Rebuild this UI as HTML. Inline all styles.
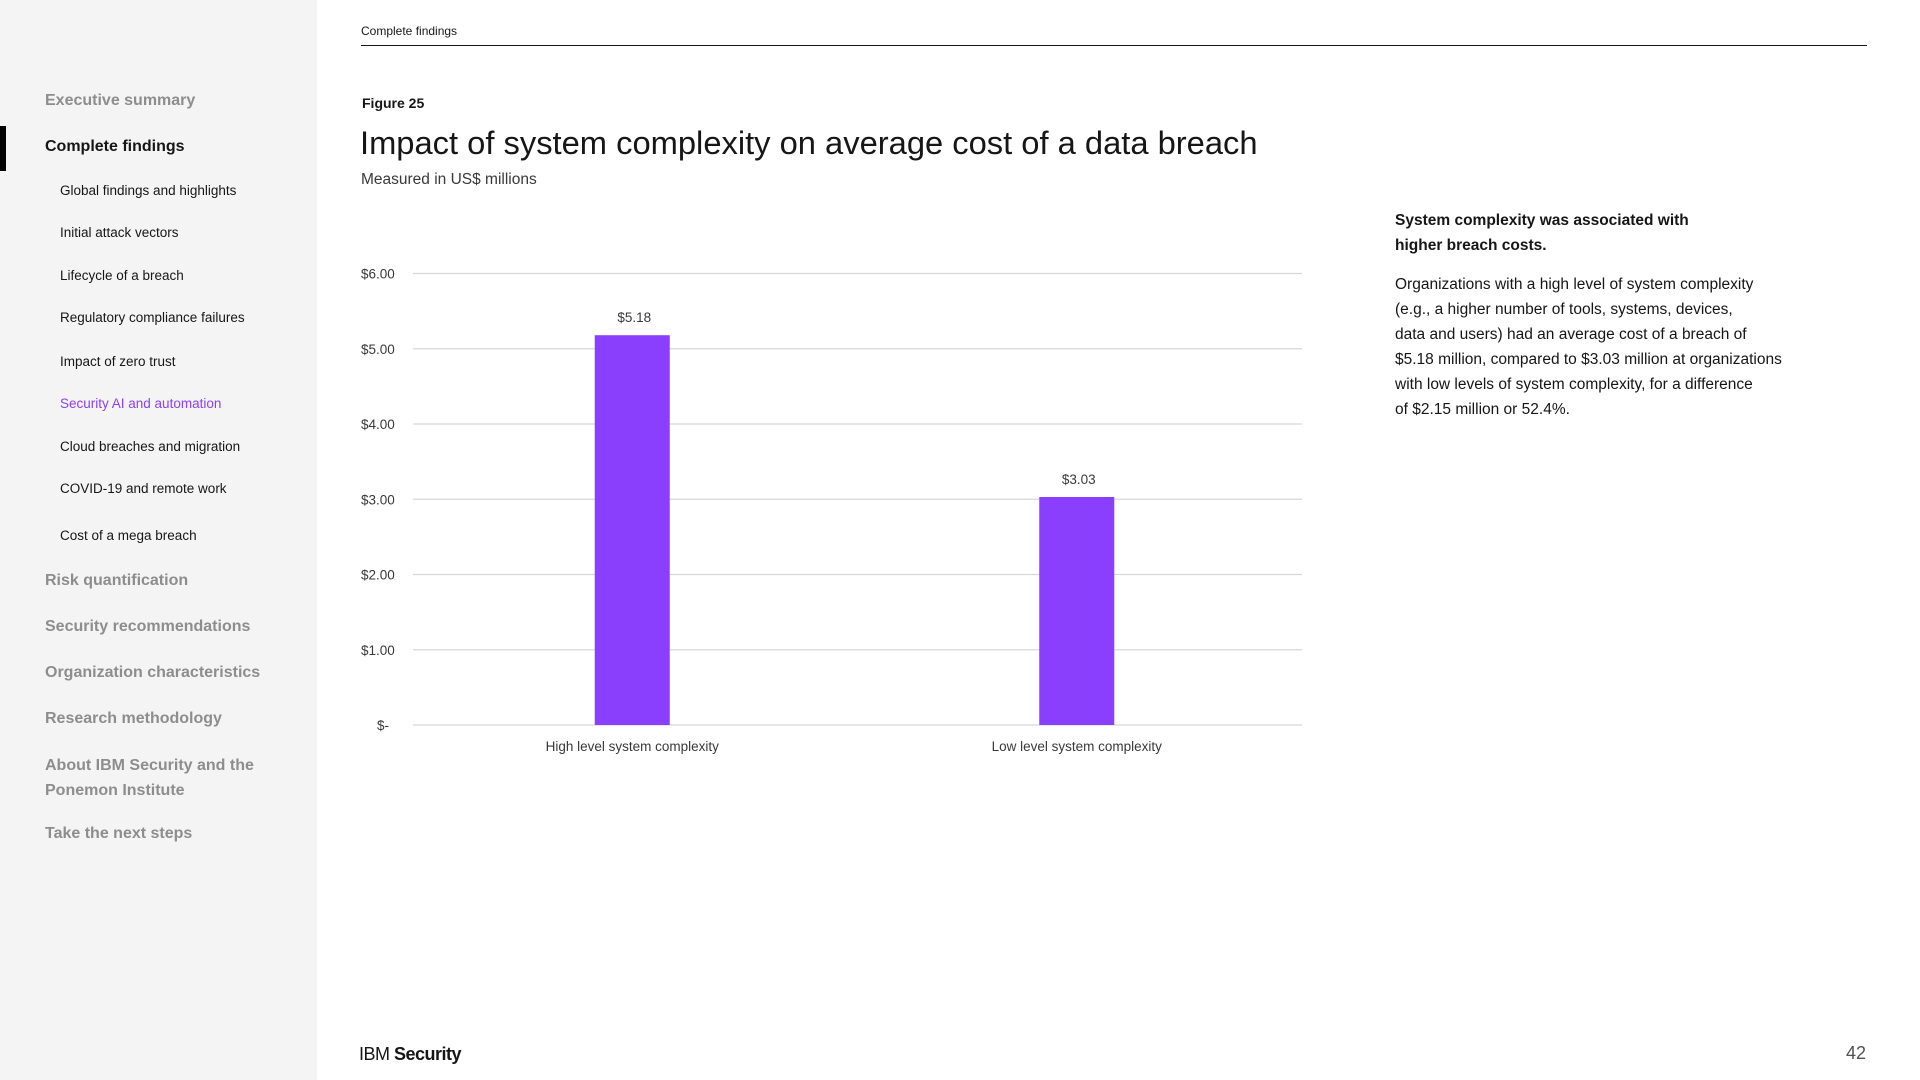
<!DOCTYPE html>
<html><head><meta charset="utf-8"><style>
body{margin:0;width:1920px;height:1080px;position:relative;background:#fff;font-family:"Liberation Sans",sans-serif;color:#161616;overflow:hidden}
.a{position:absolute;white-space:nowrap}
#side{position:absolute;left:0;top:0;width:317px;height:1080px;background:#f4f4f4}
.m{font-size:16px;font-weight:bold;color:#8d8d8d;left:45px}
.s{font-size:13.5px;color:#161616;left:60px}
</style></head><body>
<div id="side">
<div class="a" style="left:0;top:126px;width:6px;height:45px;background:#000"></div>
<div class="a m" style="top:92px">Executive summary</div>
<div class="a m" style="top:138px;color:#161616">Complete findings</div>
<div class="a s" style="top:183px">Global findings and highlights</div>
<div class="a s" style="top:225px">Initial attack vectors</div>
<div class="a s" style="top:268px">Lifecycle of a breach</div>
<div class="a s" style="top:310px">Regulatory compliance failures</div>
<div class="a s" style="top:354px">Impact of zero trust</div>
<div class="a s" style="top:396px;color:#8a3ffc">Security AI and automation</div>
<div class="a s" style="top:439px">Cloud breaches and migration</div>
<div class="a s" style="top:481px">COVID-19 and remote work</div>
<div class="a s" style="top:528px">Cost of a mega breach</div>
<div class="a m" style="top:572px">Risk quantification</div>
<div class="a m" style="top:618px">Security recommendations</div>
<div class="a m" style="top:664px">Organization characteristics</div>
<div class="a m" style="top:710px">Research methodology</div>
<div class="a m" style="top:753px;line-height:25px;white-space:normal;width:240px">About IBM Security and the Ponemon Institute</div>
<div class="a m" style="top:825px">Take the next steps</div>
</div>
<div class="a" style="left:361px;top:24px;font-size:12px">Complete findings</div>
<div class="a" style="left:361px;top:45px;width:1506px;height:1px;background:#161616"></div>
<div class="a" style="left:362px;top:95px;font-size:14px;font-weight:bold">Figure 25</div>
<div class="a" style="left:360px;top:124px;font-size:32.7px;font-weight:300">Impact of system complexity on average cost of a data breach</div>
<div class="a" style="left:361px;top:171px;font-size:15.5px;color:#393939">Measured in US$ millions</div>
<svg class="a" style="left:0;top:0" width="1920" height="1080" id="chart"></svg>
<div class="a" style="left:1395px;top:208px;font-size:15.5px;font-weight:bold;line-height:25px">System complexity was associated with<br>higher breach costs.</div>
<div class="a" style="left:1395px;top:272px;font-size:15.5px;line-height:25px;color:#161616">Organizations with a high level of system complexity<br>(e.g., a higher number of tools, systems, devices,<br>data and users) had an average cost of a breach of<br>$5.18 million, compared to $3.03 million at organizations<br>with low levels of system complexity, for a difference<br>of $2.15 million or 52.4%.</div>
<div class="a" style="left:359px;top:1044px;font-size:18px;letter-spacing:-0.5px">IBM <b>Security</b></div>
<div class="a" style="right:54px;top:1043px;font-size:18px;color:#525252">42</div>
<script>
const categories=["High level system complexity","Low level system complexity"];
const values=[5.18,3.03];
const valueLabels=["$5.18","$3.03"];
const tickValues=[0,1,2,3,4,5,6];
const tickLabels=["$-","$1.00","$2.00","$3.00","$4.00","$5.00","$6.00"];
const svg=document.getElementById('chart');const NS="http://www.w3.org/2000/svg";
const x0=413,x1=1302,yTop=273.5,yBot=725,yMax=6;
const y=v=>yBot-(yBot-yTop)*v/yMax;
const xc=i=>x0+(x1-x0)*(i+0.5)/categories.length-3;
function mk(t,a,txt){const e=document.createElementNS(NS,t);for(const k in a)e.setAttribute(k,a[k]);if(txt!=null)e.textContent=txt;svg.appendChild(e);return e;}
tickValues.forEach((v,i)=>{
 const l=mk('line',{x1:x0,x2:x1,y1:y(v),y2:y(v),stroke:'#d8d8d8','stroke-width':1.2});
 
 
 const t=mk('text',{x:i===0?377:361,y:y(v)+5,'font-size':13.5,fill:'#393939','font-family':'Liberation Sans'},tickLabels[i]);
 
 
});
const bw=75;
values.forEach((v,i)=>{
 const r=mk('rect',{x:xc(i)-bw/2,y:y(v),width:bw,height:yBot-y(v),fill:'#8a3ffc'});
 
 
 const t=mk('text',{x:xc(i)+2,y:y(v)-13,'font-size':13.5,fill:'#393939','text-anchor':'middle','font-family':'Liberation Sans'},valueLabels[i]);
 
 
 const c=mk('text',{x:xc(i),y:751,'font-size':13.5,fill:'#393939','text-anchor':'middle','font-family':'Liberation Sans'},categories[i]);
 
 
});
</script>
</body></html>
